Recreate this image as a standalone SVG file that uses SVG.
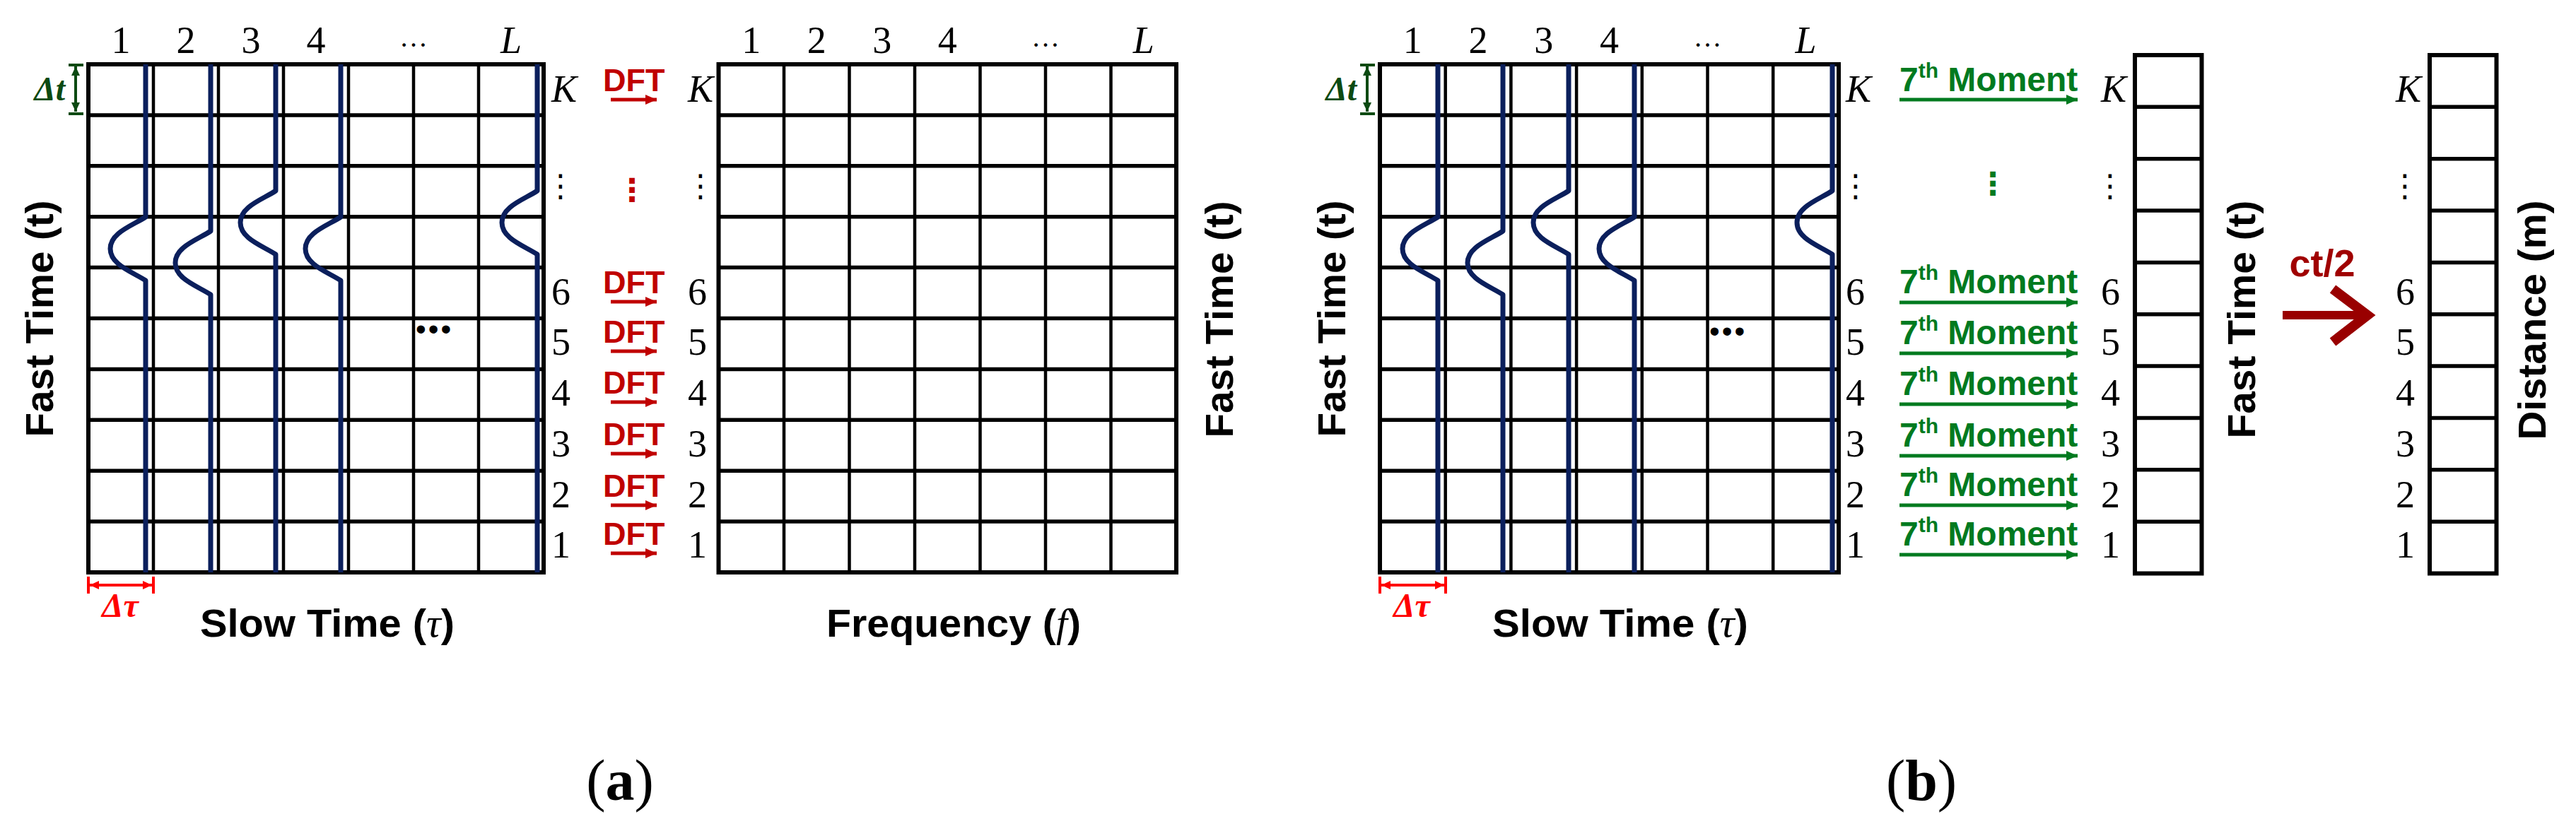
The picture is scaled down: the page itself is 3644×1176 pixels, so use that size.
<svg xmlns="http://www.w3.org/2000/svg" width="3644" height="1176" viewBox="0 0 3644 1176">
<defs>
<style>
.gb{fill:none;stroke:#000;stroke-width:6}
.gh{fill:none;stroke:#000;stroke-width:5.5}
.gv{fill:none;stroke:#000;stroke-width:4.5}
.wave{fill:none;stroke:#0b1f5c;stroke-width:7;stroke-linejoin:round}
.num{font-family:"Liberation Serif","Times New Roman",serif;font-size:54px;fill:#000}
.top{text-anchor:middle}
.it{font-style:italic}
.ell{font-family:"Liberation Serif","Times New Roman",serif;font-size:40px;text-anchor:middle}
.ax{font-family:"Liberation Sans",Arial,sans-serif;font-weight:bold;font-size:56px;fill:#000;text-anchor:middle}
.ser{font-family:"Liberation Serif","Times New Roman",serif;font-style:italic;font-weight:normal}
.dft{font-family:"Liberation Sans",Arial,sans-serif;font-weight:bold;font-size:45px;fill:#c00000}
.mom{font-family:"Liberation Sans",Arial,sans-serif;font-weight:bold;font-size:48px;fill:#007a1f}
.arR{fill:none;stroke:#c00000;stroke-width:5;marker-end:url(#ahR)}
.arG{fill:none;stroke:#007a1f;stroke-width:5;marker-end:url(#ahG)}
.vd{font-family:"DejaVu Sans",sans-serif;font-size:44px;text-anchor:middle}
.dots{font-family:"Liberation Sans",Arial,sans-serif;font-size:42px;letter-spacing:3px}
.dtau{fill:none;stroke:#ff0000;stroke-width:4}
.dtauA{marker-start:url(#ahRd);marker-end:url(#ahRd)}
.dtt{fill:none;stroke:#0c4a12;stroke-width:4}
.dttA{marker-start:url(#ahGd);marker-end:url(#ahGd)}
.dlab{font-family:"Liberation Serif","Times New Roman",serif;font-style:italic;font-weight:bold;font-size:48px}
.cap{font-family:"Liberation Serif","Times New Roman",serif;font-size:82px;text-anchor:middle}
</style>
<marker id="ahR" markerUnits="userSpaceOnUse" markerWidth="16" markerHeight="14" refX="16" refY="7" orient="auto"><path d="M0 0L16 7L0 14z" fill="#c00000"/></marker>
<marker id="ahG" markerUnits="userSpaceOnUse" markerWidth="16" markerHeight="14" refX="16" refY="7" orient="auto"><path d="M0 0L16 7L0 14z" fill="#007a1f"/></marker>
<marker id="ahRd" markerUnits="userSpaceOnUse" markerWidth="13" markerHeight="12" refX="13" refY="6" orient="auto-start-reverse"><path d="M0 0L13 6L0 12z" fill="#ff0000"/></marker>
<marker id="ahGd" markerUnits="userSpaceOnUse" markerWidth="13" markerHeight="12" refX="13" refY="6" orient="auto-start-reverse"><path d="M0 0L13 6L0 12z" fill="#0c4a12"/></marker>
</defs>
<rect width="3644" height="1176" fill="#fff"/>

<!-- Panel (a): slow-time grid -->
<g id="grid-slow-a">
<rect class="gb" x="125" y="91" width="644" height="719"/>
<path class="gh" d="M125 162.9H769M125 234.8H769M125 306.7H769M125 378.6H769M125 450.5H769M125 522.4H769M125 594.3H769M125 666.2H769M125 738.1H769"/>
<path class="gv" d="M217 91V810M309 91V810M401 91V810M493 91V810M585 91V810M677 91V810"/>
<path class="wave" d="M206 91V307C188 319 156 329 156 352C156 375 188 385 206 397V810"/>
<path class="wave" d="M298 91V327C280 339 248 349 248 372C248 395 280 405 298 417V810"/>
<path class="wave" d="M390 91V270C372 282 340 292 340 315C340 338 372 348 390 360V810"/>
<path class="wave" d="M482 91V307C464 319 432 329 432 352C432 375 464 385 482 397V810"/>
<path class="wave" d="M760 91V270C742 282 710 292 710 315C710 338 742 348 760 360V810"/>
<text class="num top" x="171" y="75">1</text>
<text class="num top" x="263" y="75">2</text>
<text class="num top" x="355" y="75">3</text>
<text class="num top" x="447" y="75">4</text>
<text class="ell" x="585" y="66">…</text>
<text class="num top it" x="723" y="75">L</text>
<text class="num it" x="780" y="144">K</text>
<text class="vd" x="793" y="278">⋮</text>
<text class="num" x="780" y="431">6</text>
<text class="num" x="780" y="502">5</text>
<text class="num" x="780" y="574">4</text>
<text class="num" x="780" y="646">3</text>
<text class="num" x="780" y="718">2</text>
<text class="num" x="780" y="789">1</text>
<text class="dots" x="588" y="480">•••</text>
<path class="dtt dttA" d="M107 94V158"/>
<path class="dtt" d="M97 92H118M97 161H118"/>
<text class="dlab" x="92" y="142" fill="#0c4a12" text-anchor="end">Δt</text>
<path class="dtau dtauA" d="M127 828H215"/>
<path class="dtau" d="M125 816V840M217 816V840"/>
<text class="dlab" x="170" y="873" fill="#ff0000" text-anchor="middle">Δτ</text>
<text class="ax" transform="translate(75,451) rotate(-90)" font-size="58" textLength="335" lengthAdjust="spacingAndGlyphs">Fast Time (t)</text>
<text class="ax" x="463" y="901" font-size="54" textLength="360" lengthAdjust="spacingAndGlyphs">Slow Time (<tspan class="ser">τ</tspan>)</text>
</g>

<!-- Panel (a): DFT labels -->
<g id="dft-labels">
<text class="dft" x="853" y="129">DFT</text>
<text class="vd" x="894" y="284" fill="#c00000" font-weight="bold">⋮</text>
<text class="dft" x="853" y="415">DFT</text>
<text class="dft" x="853" y="485">DFT</text>
<text class="dft" x="853" y="557">DFT</text>
<text class="dft" x="853" y="630">DFT</text>
<text class="dft" x="853" y="703">DFT</text>
<text class="dft" x="853" y="771">DFT</text>
</g>

<!-- Panel (a): frequency grid -->
<g id="grid-freq-a">
<rect class="gb" x="1016.5" y="91" width="647.5" height="719"/>
<path class="gh" d="M1016.5 162.9H1664M1016.5 234.8H1664M1016.5 306.7H1664M1016.5 378.6H1664M1016.5 450.5H1664M1016.5 522.4H1664M1016.5 594.3H1664M1016.5 666.2H1664M1016.5 738.1H1664"/>
<path class="gv" d="M1109 91V810M1201.5 91V810M1294 91V810M1386.5 91V810M1479 91V810M1571.5 91V810"/>
<text class="num top" x="1062.75" y="75">1</text>
<text class="num top" x="1155.25" y="75">2</text>
<text class="num top" x="1247.75" y="75">3</text>
<text class="num top" x="1340.25" y="75">4</text>
<text class="ell" x="1479" y="66">…</text>
<text class="num top it" x="1617.75" y="75">L</text>
<text class="num it" x="973" y="144">K</text>
<text class="vd" x="991" y="278">⋮</text>
<text class="num" x="973" y="431">6</text>
<text class="num" x="973" y="502">5</text>
<text class="num" x="973" y="574">4</text>
<text class="num" x="973" y="646">3</text>
<text class="num" x="973" y="718">2</text>
<text class="num" x="973" y="789">1</text>
<text class="ax" transform="translate(1744,452) rotate(-90)" font-size="58" textLength="335" lengthAdjust="spacingAndGlyphs">Fast Time (t)</text>
<text class="ax" x="1349" y="901" font-size="54" textLength="360" lengthAdjust="spacingAndGlyphs">Frequency (<tspan class="ser">f</tspan>)</text>
</g>
<text id="label-a" class="cap" x="877" y="1132">(<tspan font-weight="bold">a</tspan>)</text>

<!-- Panel (b): slow-time grid -->
<g id="grid-slow-b">
<rect class="gb" x="1952" y="91" width="649" height="719"/>
<path class="gh" d="M1952 162.9H2601M1952 234.8H2601M1952 306.7H2601M1952 378.6H2601M1952 450.5H2601M1952 522.4H2601M1952 594.3H2601M1952 666.2H2601M1952 738.1H2601"/>
<path class="gv" d="M2044.7 91V810M2137.4 91V810M2230.1 91V810M2322.8 91V810M2415.5 91V810M2508.2 91V810"/>
<path class="wave" d="M2034 91V307C2016 319 1984 329 1984 352C1984 375 2016 385 2034 397V810"/>
<path class="wave" d="M2126 91V327C2108 339 2076 349 2076 372C2076 395 2108 405 2126 417V810"/>
<path class="wave" d="M2219 91V270C2201 282 2169 292 2169 315C2169 338 2201 348 2219 360V810"/>
<path class="wave" d="M2312 91V307C2294 319 2262 329 2262 352C2262 375 2294 385 2312 397V810"/>
<path class="wave" d="M2592 91V270C2574 282 2542 292 2542 315C2542 338 2574 348 2592 360V810"/>
<text class="num top" x="1998.35" y="75">1</text>
<text class="num top" x="2091" y="75">2</text>
<text class="num top" x="2183.75" y="75">3</text>
<text class="num top" x="2276.45" y="75">4</text>
<text class="ell" x="2415.5" y="66">…</text>
<text class="num top it" x="2554.6" y="75">L</text>
<text class="num it" x="2611" y="144">K</text>
<text class="vd" x="2625" y="278">⋮</text>
<text class="num" x="2611" y="431">6</text>
<text class="num" x="2611" y="502">5</text>
<text class="num" x="2611" y="574">4</text>
<text class="num" x="2611" y="646">3</text>
<text class="num" x="2611" y="718">2</text>
<text class="num" x="2611" y="789">1</text>
<text class="dots" x="2418" y="483">•••</text>
<path class="dtt dttA" d="M1934 94V158"/>
<path class="dtt" d="M1924 92H1945M1924 161H1945"/>
<text class="dlab" x="1919" y="142" fill="#0c4a12" text-anchor="end">Δt</text>
<path class="dtau dtauA" d="M1954 828H2043"/>
<path class="dtau" d="M1952 816V840M2045 816V840"/>
<text class="dlab" x="1997" y="873" fill="#ff0000" text-anchor="middle">Δτ</text>
<text class="ax" transform="translate(1903,451) rotate(-90)" font-size="58" textLength="335" lengthAdjust="spacingAndGlyphs">Fast Time (t)</text>
<text class="ax" x="2292" y="901" font-size="54" textLength="362" lengthAdjust="spacingAndGlyphs">Slow Time (<tspan class="ser">τ</tspan>)</text>
</g>

<!-- Panel (b): 7th moment labels -->
<g id="moment-labels">
<text class="mom" x="2687" y="129">7<tspan font-size="30" dy="-19">th</tspan><tspan dy="19"> Moment</tspan></text>
<text class="vd" x="2819" y="275" fill="#007a1f" font-weight="bold">⋮</text>
<text class="mom" x="2687" y="415">7<tspan font-size="30" dy="-19">th</tspan><tspan dy="19"> Moment</tspan></text>
<text class="mom" x="2687" y="487">7<tspan font-size="30" dy="-19">th</tspan><tspan dy="19"> Moment</tspan></text>
<text class="mom" x="2687" y="559">7<tspan font-size="30" dy="-19">th</tspan><tspan dy="19"> Moment</tspan></text>
<text class="mom" x="2687" y="632">7<tspan font-size="30" dy="-19">th</tspan><tspan dy="19"> Moment</tspan></text>
<text class="mom" x="2687" y="702">7<tspan font-size="30" dy="-19">th</tspan><tspan dy="19"> Moment</tspan></text>
<text class="mom" x="2687" y="772">7<tspan font-size="30" dy="-19">th</tspan><tspan dy="19"> Moment</tspan></text>
</g>

<!-- Panel (b): fast-time column -->
<g id="col-fast-b">
<rect class="gb" x="3020" y="78" width="94.5" height="733.5"/>
<path class="gh" d="M3020 151.35H3114.5M3020 224.7H3114.5M3020 298.05H3114.5M3020 371.4H3114.5M3020 444.75H3114.5M3020 518.1H3114.5M3020 591.45H3114.5M3020 664.8H3114.5M3020 738.15H3114.5"/>
<text class="num it" x="2972" y="144">K</text>
<text class="vd" x="2985" y="278">⋮</text>
<text class="num" x="2972" y="431">6</text>
<text class="num" x="2972" y="502">5</text>
<text class="num" x="2972" y="574">4</text>
<text class="num" x="2972" y="646">3</text>
<text class="num" x="2972" y="718">2</text>
<text class="num" x="2972" y="789">1</text>
<text class="ax" transform="translate(3190,452) rotate(-90)" font-size="58" textLength="337" lengthAdjust="spacingAndGlyphs">Fast Time (t)</text>
</g>

<text id="ct2" x="3285" y="391" font-family="Liberation Sans, Arial, sans-serif" font-weight="bold" font-size="54" fill="#a00000" text-anchor="middle">ct/2</text>

<!-- Panel (b): distance column -->
<g id="col-distance-b">
<rect class="gb" x="3437" y="78" width="94.5" height="733.5"/>
<path class="gh" d="M3437 151.35H3531.5M3437 224.7H3531.5M3437 298.05H3531.5M3437 371.4H3531.5M3437 444.75H3531.5M3437 518.1H3531.5M3437 591.45H3531.5M3437 664.8H3531.5M3437 738.15H3531.5"/>
<text class="num it" x="3389" y="144">K</text>
<text class="vd" x="3402" y="278">⋮</text>
<text class="num" x="3389" y="431">6</text>
<text class="num" x="3389" y="502">5</text>
<text class="num" x="3389" y="574">4</text>
<text class="num" x="3389" y="646">3</text>
<text class="num" x="3389" y="718">2</text>
<text class="num" x="3389" y="789">1</text>
<text class="ax" transform="translate(3601,453) rotate(-90)" font-size="58" textLength="339" lengthAdjust="spacingAndGlyphs">Distance (m)</text>
</g>
<text id="label-b" class="cap" x="2718" y="1132">(<tspan font-weight="bold">b</tspan>)</text>

<!-- Connectors -->
<g id="connectors">
<path class="arR" d="M864 141H929"/>
<path class="arR" d="M864 427H929"/>
<path class="arR" d="M864 497H929"/>
<path class="arR" d="M864 569H929"/>
<path class="arR" d="M864 642H929"/>
<path class="arR" d="M864 715H929"/>
<path class="arR" d="M864 783H929"/>
<path class="arG" d="M2687 141H2939"/>
<path class="arG" d="M2687 428H2939"/>
<path class="arG" d="M2687 500H2939"/>
<path class="arG" d="M2687 572H2939"/>
<path class="arG" d="M2687 645H2939"/>
<path class="arG" d="M2687 715H2939"/>
<path class="arG" d="M2687 785H2939"/>
<path d="M3229 446H3342" fill="none" stroke="#990000" stroke-width="12"/>
<path d="M3300 409L3349 446L3300 484" fill="none" stroke="#990000" stroke-width="14" stroke-linejoin="miter"/>
</g>
</svg>
